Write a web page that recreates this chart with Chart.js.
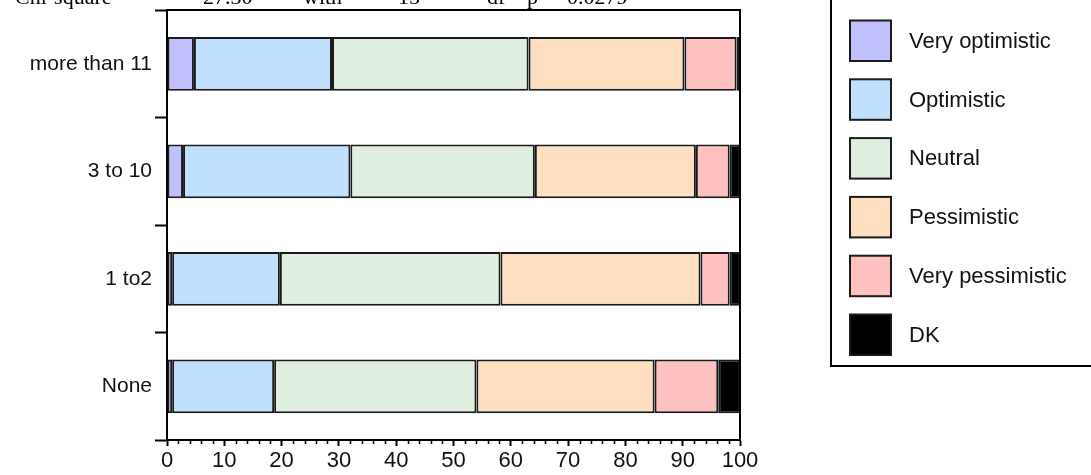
<!DOCTYPE html>
<html>
<head>
<meta charset="utf-8">
<script src="https://cdn.jsdelivr.net/npm/chart.js@4/dist/chart.umd.min.js"></script>
<style>
  html, body { margin: 0; padding: 0; background: #fff; }
  #wrap { width: 1091px; height: 475px; position: relative; }
</style>
</head>
<body>
<div id="wrap"><canvas id="c" width="1091" height="475"></canvas></div>
<script>
// Number of years -> share of answers (percent) per outlook
const categories = ['more than 11', '3 to 10', '1 to2', 'None'];
const veryOptimistic  = [4.7, 2.8, 0.9, 0.9];
const optimistic      = [24.1, 29.2, 18.8, 17.8];
const neutral         = [34.3, 32.2, 38.5, 35.3];
const pessimistic     = [27.2, 28.1, 34.9, 31.1];
const veryPessimistic = [9.1, 5.9, 5.1, 11.1];
const dontKnow        = [0.6, 1.8, 1.8, 3.8];

const seriesNames  = ['Very optimistic', 'Optimistic', 'Neutral', 'Pessimistic', 'Very pessimistic', 'DK'];
const seriesColors = ['#c0c0ff', '#c0e0ff', '#deeedf', '#fedfc0', '#ffc0c0', '#000000'];
const xTickValues  = [0, 10, 20, 30, 40, 50, 60, 70, 80, 90, 100];
const xMinorStep   = 2;

// Test statistic line at the top
const statPieces = [['Chi-square', 15], ['=', 150], ['27.30', 203], ['with', 303], ['15', 398], ['df', 487], ['p', 527], ['=', 545], ['0.0279', 567]];

const seriesValues = [veryOptimistic, optimistic, neutral, pessimistic, veryPessimistic, dontKnow];
const datasets = seriesNames.map((name, i) => ({
  label: name,
  data: seriesValues[i],
  backgroundColor: seriesColors[i],
  borderColor: '#1a1a1a',
  borderWidth: 2,
  borderSkipped: false,
  categoryPercentage: 1,
  barPercentage: 0.5
}));

const SANS = '"Liberation Sans", Arial, sans-serif';
const SERIF = '"Liberation Serif", "Times New Roman", serif';

const framePlugin = {
  id: 'frame',
  afterDraw(chart) {
    const ctx = chart.ctx;
    const a = chart.chartArea;
    const xs = chart.scales.x;
    ctx.save();
    ctx.strokeStyle = '#000';
    ctx.lineWidth = 2;
    // top and right edges of the plot box
    ctx.beginPath();
    ctx.moveTo(a.left, a.top);
    ctx.lineTo(a.right, a.top);
    ctx.lineTo(a.right, a.bottom);
    ctx.stroke();
    // minor ticks on the value axis
    ctx.lineWidth = 1.5;
    ctx.beginPath();
    for (let v = 0; v <= 100; v += xMinorStep) {
      if (v % 10 === 0) continue;
      const px = Math.round(xs.getPixelForValue(v)) + 0.5;
      ctx.moveTo(px, a.bottom);
      ctx.lineTo(px, a.bottom + 4);
    }
    ctx.stroke();

    // statistic line
    ctx.fillStyle = '#000';
    ctx.font = '22px ' + SERIF;
    ctx.textBaseline = 'alphabetic';
    ctx.textAlign = 'left';
    statPieces.forEach(([t, x]) => ctx.fillText(t, x, 4));

    // legend box
    ctx.lineWidth = 2;
    ctx.strokeStyle = '#000';
    ctx.strokeRect(831, -10, 300, 376);
    const sqX = 850, sqW = 41, sqH = 40.5, top0 = 20.5, step = 58.8;
    ctx.font = '22px ' + SANS;
    ctx.textBaseline = 'middle';
    seriesNames.forEach((name, i) => {
      const y = top0 + i * step;
      ctx.fillStyle = seriesColors[i];
      ctx.fillRect(sqX, y, sqW, sqH);
      ctx.lineWidth = 2;
      ctx.strokeStyle = '#1a1a1a';
      ctx.strokeRect(sqX, y, sqW, sqH);
      ctx.fillStyle = '#111';
      ctx.fillText(name, 909, y + sqH / 2 + 1);
    });
    ctx.restore();
  }
};

new Chart(document.getElementById('c'), {
  type: 'bar',
  data: { labels: categories, datasets },
  plugins: [framePlugin],
  options: {
    indexAxis: 'y',
    responsive: false,
    animation: false,
    layout: { padding: { top: 10, right: 351, left: 0, bottom: 0 } },
    plugins: { legend: { display: false }, tooltip: { enabled: false } },
    scales: {
      x: {
        stacked: true,
        min: 0,
        max: 100,
        afterBuildTicks(scale) { scale.ticks = xTickValues.map(v => ({ value: v })); },
        afterFit(scale) { scale.height = 35; },
        grid: { drawOnChartArea: false, drawTicks: true, tickLength: 6, tickWidth: 2, tickColor: '#000' },
        border: { display: true, color: '#000', width: 2 },
        ticks: { color: '#111', font: { family: SANS, size: 22 }, padding: 2, maxRotation: 0, autoSkip: false }
      },
      y: {
        stacked: true,
        offset: true,
        afterFit(scale) { scale.width = 167; scale.paddingTop = 0; scale.paddingBottom = 0; },
        grid: { offset: true, drawOnChartArea: false, drawTicks: true, tickLength: 12, tickWidth: 2, tickColor: '#000' },
        border: { display: true, color: '#000', width: 2 },
        ticks: { color: '#111', font: { family: SANS, size: 21 }, padding: 3 }
      }
    }
  }
});
</script>
</body>
</html>
